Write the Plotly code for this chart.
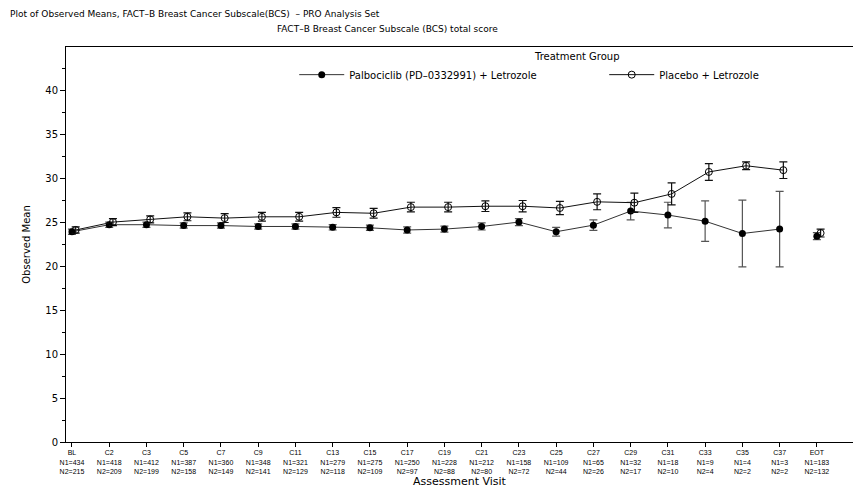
import plotly.graph_objects as go

visits = ["BL", "C2", "C3", "C5", "C7", "C9", "C11", "C13", "C15", "C17", "C19",
          "C21", "C23", "C25", "C27", "C29", "C31", "C33", "C35", "C37", "EOT"]
n1 = [434, 418, 412, 387, 360, 348, 321, 279, 275, 250, 228,
      212, 158, 109, 65, 32, 18, 9, 4, 3, 183]
n2 = [215, 209, 199, 158, 149, 141, 129, 118, 109, 97, 88,
      80, 72, 44, 26, 17, 10, 4, 2, 2, 132]

palbo_mean = [23.9, 24.7, 24.7, 24.6, 24.6, 24.5, 24.5, 24.4, 24.35, 24.1, 24.2,
              24.5, 25.0, 23.9, 24.65, 26.25, 25.8, 25.1, 23.7, 24.2, 23.4]
palbo_err = [0.3, 0.3, 0.3, 0.3, 0.3, 0.3, 0.3, 0.3, 0.3, 0.35, 0.35,
             0.4, 0.4, 0.5, 0.6, 1.0, 1.45, 2.3, 3.8, 4.3, 0.4]

placebo_mean = [24.1, 25.0, 25.3, 25.6, 25.45, 25.6, 25.6, 26.1, 26.0, 26.7, 26.7,
                26.8, 26.8, 26.6, 27.3, 27.2, 28.2, 30.7, 31.4, 30.9, 23.75]
placebo_err = [0.35, 0.4, 0.4, 0.45, 0.5, 0.5, 0.5, 0.55, 0.55, 0.55, 0.55,
               0.6, 0.65, 0.75, 0.9, 1.1, 1.25, 0.95, 0.45, 0.95, 0.45]

series_names = ["Palbociclib (PD–0332991) + Letrozole", "Placebo + Letrozole"]

FONT = "DejaVu Sans"
idx = list(range(len(visits)))
main_idx = idx[:-1]
eot = idx[-1]
dodge = 0.1

fig = go.Figure()

def add_series(means, errs, off, name, marker, line_color, err_color):
    xs = [i + off for i in main_idx]
    fig.add_trace(go.Scatter(
        x=xs, y=means[:-1], mode="lines+markers", name=name,
        line=dict(color=line_color, width=1),
        marker=marker,
        error_y=dict(type="data", array=errs[:-1], symmetric=True,
                     color=err_color, thickness=1.2, width=4),
        legendgroup=name,
    ))
    fig.add_trace(go.Scatter(
        x=[eot + off], y=[means[-1]], mode="markers", name=name,
        marker=marker, showlegend=False, legendgroup=name,
        error_y=dict(type="data", array=[errs[-1]], symmetric=True,
                     color=err_color, thickness=1.2, width=4),
    ))

add_series(palbo_mean, palbo_err, 0.0, series_names[0],
           dict(symbol="circle", size=7, color="black"), "#333333", "#555555")
add_series(placebo_mean, placebo_err, dodge, series_names[1],
           dict(symbol="circle-open", size=7, color="black", line=dict(width=1)),
           "#111111", "#111111")

ticktext = [f"{v}<br>N1={a}<br>N2={b}" for v, a, b in zip(visits, n1, n2)]

fig.update_layout(
    width=853, height=488,
    margin=dict(l=66, r=0, t=47, b=46, autoexpand=False),
    paper_bgcolor="white", plot_bgcolor="white",
    font=dict(family=FONT, size=10, color="black"),
    showlegend=True,
    legend=dict(orientation="h", x=0.29, y=0.93, xanchor="left", yanchor="middle",
                font=dict(family=FONT, size=10), entrywidth=250,
                entrywidthmode="pixels", itemwidth=45, bgcolor="rgba(0,0,0,0)"),
    xaxis=dict(range=[-0.16, 20.97], tickmode="array", tickvals=idx, ticktext=ticktext,
               tickfont=dict(family="Liberation Sans", size=7),
               showline=True, linecolor="black", linewidth=1, mirror=True,
               ticks="outside", ticklen=4, tickcolor="black",
               showgrid=False, zeroline=False),
    yaxis=dict(range=[0, 44.9], tickvals=[0, 5, 10, 15, 20, 25, 30, 35, 40],
               tickfont=dict(family=FONT, size=10),
               showline=True, linecolor="black", linewidth=1,
               ticks="outside", ticklen=5, tickcolor="black",
               minor=dict(tickvals=[2.5, 7.5, 12.5, 17.5, 22.5, 27.5, 32.5, 37.5, 42.5],
                          ticks="outside", ticklen=3, tickcolor="black"),
               showgrid=False, zeroline=False,
               title=dict(text="Observed Mean", font=dict(family=FONT, size=10), standoff=12)),
    annotations=[
        dict(text="Plot of Observed Means, FACT–B Breast Cancer Subscale(BCS)  – PRO Analysis Set",
             xref="paper", yref="paper", x=-0.0737, y=1.0835, xanchor="left", yanchor="middle",
             showarrow=False, font=dict(family=FONT, size=9)),
        dict(text="FACT–B Breast Cancer Subscale (BCS) total score",
             xref="paper", yref="paper", x=0.409, y=1.0456, xanchor="center", yanchor="middle",
             showarrow=False, font=dict(family=FONT, size=9)),
        dict(text="Treatment Group",
             xref="paper", yref="paper", x=0.649, y=0.977, xanchor="center", yanchor="middle",
             showarrow=False, font=dict(family=FONT, size=10)),
        dict(text="Assessment Visit",
             xref="paper", yref="paper", x=0.5, y=-0.1, xanchor="center", yanchor="middle",
             showarrow=False, font=dict(family=FONT, size=11)),
    ],
)

fig.write_html("out.html")
